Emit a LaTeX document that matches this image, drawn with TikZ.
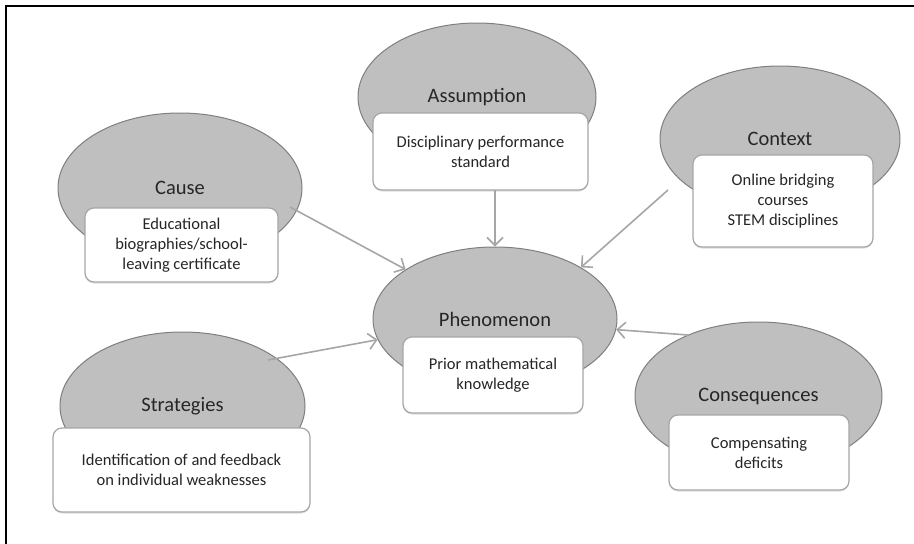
\documentclass[tikz,border=0pt]{standalone}
\usepackage{fontspec}
\setmainfont{Carlito}
\usetikzlibrary{shapes.geometric,arrows.meta,shadows}

\definecolor{ovalfill}{HTML}{BFBFBF}
\definecolor{ovaledge}{HTML}{7F7F7F}
\definecolor{boxedge}{HTML}{A6A6A6}
\definecolor{linkgray}{HTML}{A6A6A6}
\definecolor{inkgray}{HTML}{262626}

\tikzset{
  oval/.style={ellipse, draw=ovaledge, fill=ovalfill, line width=1pt,
    inner sep=0pt, text=inkgray, font=\fontsize{20.5}{24}\selectfont},
  infobox/.style={rectangle, rounded corners=9pt, draw=boxedge, fill=white,
    line width=1.2pt, align=center, inner sep=0pt, text=inkgray,
    font=\fontsize{16.5}{20}\selectfont,
    drop shadow={shadow xshift=0pt, shadow yshift=-1.5pt, opacity=0.25}},
  link/.style={draw=linkgray, line width=1.6pt,
    -{Straight Barb[length=8pt,width=16pt,line width=1.6pt]}},
  frameline/.style={draw=black, line width=2pt}
}

\begin{document}
\begin{tikzpicture}[x=1pt,y=-1pt]
  \useasboundingbox (0,0) rectangle (914,544);
  % outer frame (top and left edges)
  \draw[frameline] (914,6) -- (6,6) -- (6,544);

  % category ovals
  \node[oval, minimum width=244pt, minimum height=150pt] (cause) at (180,188) {Cause};
  \node[oval, minimum width=238pt, minimum height=148pt] (assum) at (477,97) {Assumption};
  \node[oval, minimum width=240pt, minimum height=146pt] (ctx) at (780,139) {Context};
  \node[oval, minimum width=244pt, minimum height=144pt] (phen) at (495,319) {Phenomenon};
  \node[oval, minimum width=245pt, minimum height=148pt] (strat) at (182.5,406) {Strategies};
  \node[oval, minimum width=247pt, minimum height=148pt] (cons) at (758.5,396) {Consequences};

  % content boxes
  \node[infobox, minimum width=193pt, minimum height=74pt] (causebox) at (181.5,245)
    {Educational\\biographies/school-\\leaving certificate};
  \node[infobox, minimum width=215pt, minimum height=77pt] (assumbox) at (480.5,151.5)
    {Disciplinary performance\\standard};
  \node[infobox, minimum width=180pt, minimum height=92pt] (ctxbox) at (783,201)
    {Online bridging\\courses\\STEM disciplines};
  \node[infobox, minimum width=180pt, minimum height=76pt] (phenbox) at (493,375)
    {Prior mathematical\\knowledge};
  \node[infobox, minimum width=257pt, minimum height=84pt] (stratbox) at (181.5,470)
    {Identification of and feedback\\on individual weaknesses};
  \node[infobox, minimum width=180pt, minimum height=75pt] (consbox) at (759,452.5)
    {Compensating\\deficits};

  % arrow start points
  \coordinate (causeout) at (290,207);
  \coordinate (assumout) at (495,190);
  \coordinate (ctxout) at (668,190);
  \coordinate (stratout) at (268,360);
  \coordinate (consout) at (688,335);

  % links into the phenomenon
  \draw[link] (causeout) -- (phen.151);
  \draw[link] (assumout) -- (phen.90);
  \draw[link] (ctxout) -- (phen.31);
  \draw[link] (stratout) -- (phen.190);
  \draw[link] (consout) -- (phen.355);
\end{tikzpicture}
\end{document}
